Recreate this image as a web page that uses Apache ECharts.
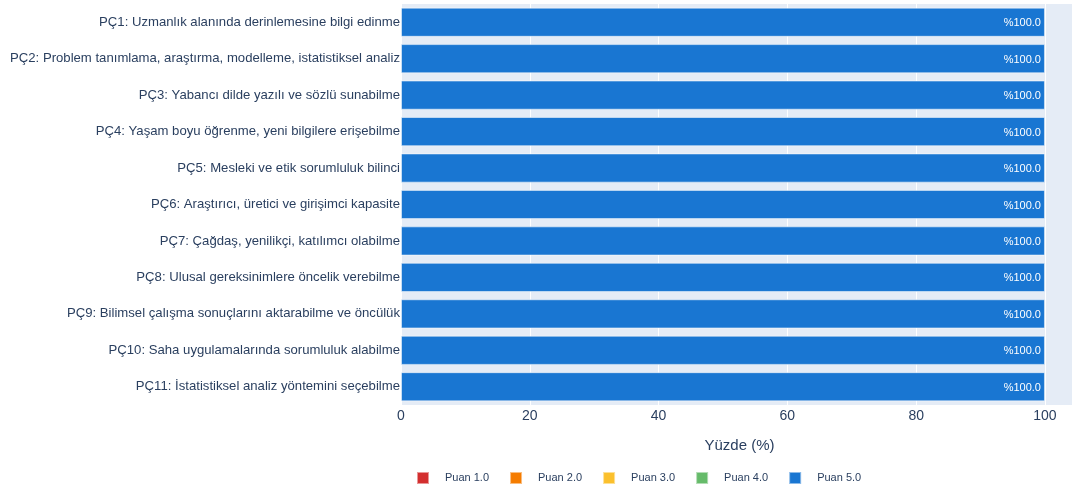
<!DOCTYPE html>
<html><head><meta charset="utf-8">
<script src="https://cdn.jsdelivr.net/npm/echarts@6/dist/echarts.min.js"></script>
<style>html,body{margin:0;padding:0;background:#fff}#c{width:1072px;height:488px}</style>
</head><body><div id="c"></div>
<script>
const categories = [
  "PÇ1: Uzmanlık alanında derinlemesine bilgi edinme",
  "PÇ2: Problem tanımlama, araştırma, modelleme, istatistiksel analiz",
  "PÇ3: Yabancı dilde yazılı ve sözlü sunabilme",
  "PÇ4: Yaşam boyu öğrenme, yeni bilgilere erişebilme",
  "PÇ5: Mesleki ve etik sorumluluk bilinci",
  "PÇ6: Araştırıcı, üretici ve girişimci kapasite",
  "PÇ7: Çağdaş, yenilikçi, katılımcı olabilme",
  "PÇ8: Ulusal gereksinimlere öncelik verebilme",
  "PÇ9: Bilimsel çalışma sonuçlarını aktarabilme ve öncülük",
  "PÇ10: Saha uygulamalarında sorumluluk alabilme",
  "PÇ11: İstatistiksel analiz yöntemini seçebilme"
];
const seriesNames = ["Puan 1.0", "Puan 2.0", "Puan 3.0", "Puan 4.0", "Puan 5.0"];
const puan1 = [0,0,0,0,0,0,0,0,0,0,0];
const puan2 = [0,0,0,0,0,0,0,0,0,0,0];
const puan3 = [0,0,0,0,0,0,0,0,0,0,0];
const puan4 = [0,0,0,0,0,0,0,0,0,0,0];
const puan5 = [100,100,100,100,100,100,100,100,100,100,100];
const xTicks = [0, 20, 40, 60, 80, 100];
const colors = ["#D32F2F", "#F57C00", "#FBC02D", "#66BB6A", "#1976D2"];

const allData = [puan1, puan2, puan3, puan4, puan5];
const font = "'Liberation Sans', Arial, sans-serif";
const chart = echarts.init(document.getElementById('c'));
chart.setOption({
  animation: false,
  textStyle: { fontFamily: font },
  grid: { left: 401, right: 0, top: 4, bottom: 83, show: true, backgroundColor: '#E5ECF6', borderWidth: 0,
          containLabel: false, outerBoundsMode: 'none' },
  legend: {
    left: 411, top: 466, itemWidth: 12, itemHeight: 12, icon: 'rect', itemGap: 20,
    data: seriesNames,
    textStyle: { color: '#2a3f5f', fontSize: 11, fontFamily: font, width: 50, padding: [0,0,0,11] }
  },
  xAxis: {
    type: 'value', min: 0, max: 104.2, interval: 20,
    name: 'Yüzde (%)', nameLocation: 'middle', nameGap: 33,
    nameTextStyle: { color: '#2a3f5f', fontSize: 15, fontFamily: font, padding: [0,0,0,6] },
    axisLine: { show: false }, axisTick: { show: false },
    axisLabel: { color: '#2a3f5f', fontSize: 14, margin: 4, showMaxLabel: false,
      formatter: v => xTicks.indexOf(Math.round(v*10)/10) >= 0 ? String(v) : '' },
    splitLine: { lineStyle: { color: '#ffffff', width: 1 } }
  },
  yAxis: {
    type: 'category', data: categories, inverse: true,
    axisLine: { show: false }, axisTick: { show: false },
    axisLabel: { color: '#2a3f5f', fontSize: 13.15, margin: 1, padding: [3,0,0,0] },
    splitLine: { show: false }
  },
  series: seriesNames.map((n, i) => ({
    name: n, type: 'bar', stack: 'total', data: allData[i],
    barCategoryGap: '20%',
    itemStyle: { color: colors[i], borderColor: 'rgba(255,255,255,0.5)', borderWidth: 1 },
    label: {
      show: i === 4, position: 'insideRight', color: '#ffffff', fontSize: 11, distance: 4, offset: [0, 1],
      formatter: p => p.value > 0 ? '%' + p.value.toFixed(1) : ''
    }
  }))
});
</script></body></html>
